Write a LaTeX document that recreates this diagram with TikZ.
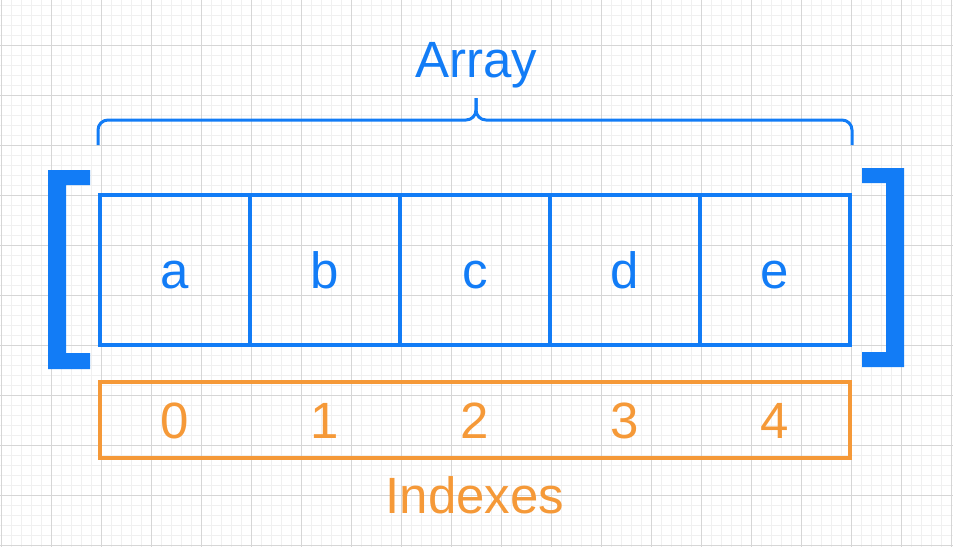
\documentclass[tikz,border=0pt]{standalone}
\usepackage{fontspec}
\setmainfont{Liberation Sans}
\usetikzlibrary{positioning}
\definecolor{arrblue}{RGB}{18,124,246}
\definecolor{idxorange}{RGB}{245,153,56}
\definecolor{gridminor}{RGB}{240,240,240}
\definecolor{gridmajor}{RGB}{214,214,214}

\begin{document}
\begin{tikzpicture}[
    x=1pt, y=-1pt,
    node distance=150pt,
    on grid,
    every node/.style={font=\fontsize{51}{60}\selectfont},
    cell/.style={draw=arrblue, line width=4pt, minimum size=150pt, inner sep=0pt,
                 text=arrblue, text height=36pt, text depth=0pt},
    digit/.style={text=idxorange, inner sep=0pt, text height=36pt, text depth=0pt},
    label/.style={anchor=base, inner sep=0pt}
]
   \useasboundingbox (0,0) rectangle (953,547);

   % Grid paper
   \foreach \gx in {1.7,11.7,...,951.7}
      \draw[gridminor, line width=0.6pt] (\gx,0) -- (\gx,547);
   \foreach \gy in {5,15,...,545}
      \draw[gridminor, line width=0.6pt] (0,\gy) -- (953,\gy);
   \foreach \gx in {1.7,51.7,...,951.7}
      \draw[gridmajor, line width=0.9pt] (\gx,0) -- (\gx,547);
   \foreach \gy in {45,95,...,545}
      \draw[gridmajor, line width=0.9pt] (0,\gy) -- (953,\gy);

   % Array cells
   \node[cell] (a) at (175,270) {a};
   \node[cell, right=of a] (b) {b};
   \node[cell, right=of b] (c) {c};
   \node[cell, right=of c] (d) {d};
   \node[cell, right=of d] (e) {e};

   % Brackets
   \fill[arrblue] (48,170) -- (90,170) -- (90,185) -- (66,185) -- (66,353)
      -- (90,353) -- (90,369) -- (48,369) -- cycle;
   \fill[arrblue] (904,168) -- (862,168) -- (862,183) -- (886,183) -- (886,352)
      -- (862,352) -- (862,367) -- (904,367) -- cycle;

   % Brace and title
   \coordinate (tip) at (476,98);
   \draw[arrblue, line width=3pt, rounded corners=10pt]
      (a.north west |- 0,145) |- (tip |- 0,120) -- (tip);
   \draw[arrblue, line width=3pt, rounded corners=10pt]
      (e.north east |- 0,145) |- (tip |- 0,120) -- (tip);
   \node[label, text=arrblue] (title) at (476,77) {Array};

   % Indexes
   \node[draw=idxorange, line width=4pt, minimum width=750pt, minimum height=76pt,
         inner sep=0pt] (idx) at (475,420) {};
   \node[digit] (i0) at (a |- idx) {0};
   \node[digit] (i1) at (b |- idx) {1};
   \node[digit] (i2) at (c |- idx) {2};
   \node[digit] (i3) at (d |- idx) {3};
   \node[digit] (i4) at (e |- idx) {4};
   \node[label, text=idxorange] (idxlabel) at (475,513) {Indexes};
\end{tikzpicture}
\end{document}
